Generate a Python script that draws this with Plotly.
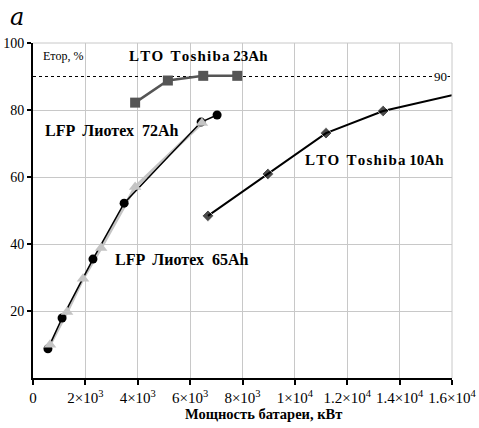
import plotly.graph_objects as go

# ---- data ----
lto23_x = [3900, 5150, 6500, 7800]
lto23_y = [82.2, 88.8, 90.2, 90.2]

lto10_x = [6680, 8970, 11190, 13370, 16000]
lto10_y = [48.4, 60.9, 73.1, 79.7, 84.4]

lfp65_x = [570, 1110, 2290, 3480, 6420, 7030]
lfp65_y = [8.7, 17.9, 35.5, 52.2, 76.4, 78.5]

lfp72_x = [650, 1300, 1910, 2600, 3900, 6450]
lfp72_y = [9.9, 19.7, 29.6, 38.8, 57.0, 76.1]

ref_level = 90
x_tickvals = [0, 2000, 4000, 6000, 8000, 10000, 12000, 14000, 16000]
x_ticktext = ["0", "2×10<sup>3</sup>", "4×10<sup>3</sup>", "6×10<sup>3</sup>",
              "8×10<sup>3</sup>", "1×10<sup>4</sup>", "1.2×10<sup>4</sup>",
              "1.4×10<sup>4</sup>", "1.6×10<sup>4</sup>"]
y_tickvals = [20, 40, 60, 80, 100]

SERIF = "Liberation Serif"
HS = "\u200a"
GRAY = "#c4c4c4"

fig = go.Figure()

# reference dashed line at 90
fig.add_trace(go.Scatter(x=[0, 16000], y=[ref_level, ref_level], mode="lines",
                         line=dict(color="black", width=1, dash="3px,3px"),
                         hoverinfo="skip", showlegend=False))

# LFP 72Ah gray line (under), LFP 65Ah black on top, then gray triangles
fig.add_trace(go.Scatter(x=lfp72_x, y=lfp72_y, mode="lines",
                         line=dict(color=GRAY, width=3),
                         hoverinfo="skip", showlegend=False))
fig.add_trace(go.Scatter(x=lfp65_x, y=lfp65_y, mode="lines+markers",
                         line=dict(color="black", width=1.5),
                         marker=dict(symbol="circle", size=9, color="black"),
                         name="LFP Лиотех 65Ah", showlegend=False))
fig.add_trace(go.Scatter(x=lfp72_x, y=lfp72_y, mode="markers",
                         marker=dict(symbol="triangle-up", size=11, color=GRAY),
                         name="LFP Лиотех 72Ah", showlegend=False))
fig.add_trace(go.Scatter(x=lto23_x, y=lto23_y, mode="lines+markers",
                         line=dict(color="#555555", width=2.5),
                         marker=dict(symbol="square", size=10, color="#555555"),
                         name="LTO Toshiba 23Ah", showlegend=False))
fig.add_trace(go.Scatter(x=lto10_x, y=lto10_y, mode="lines+markers",
                         line=dict(color="black", width=2),
                         marker=dict(symbol="diamond", size=[9, 9, 9, 9, 0], color="black"),
                         name="LTO Toshiba 10Ah", showlegend=False))

lab = dict(family=SERIF, size=15, color="black")
lab16 = dict(family=SERIF, size=16, color="black")
lto23_txt = "<b>" + HS.join("LTO") + "  " + HS.join("Toshiba") + " 23Ah</b>"
lto10_txt = "<b>" + HS.join("LTO") + "  " + HS.join("Toshiba") + " 10Ah</b>"
annos = [
    dict(x=0.02, y=0.96, xref="paper", yref="paper", text="Етор, %",
         font=dict(family=SERIF, size=12, color="black"), xanchor="left", yanchor="middle"),
    dict(x=0.225, y=0.96, xref="paper", yref="paper", text=lto23_txt,
         font=lab, xanchor="left", yanchor="middle"),
    dict(x=0.024, y=0.738, xref="paper", yref="paper", text="<b>LFP  Лиотех  72Ah</b>",
         font=lab16, xanchor="left", yanchor="middle"),
    dict(x=0.19, y=0.354, xref="paper", yref="paper", text="<b>LFP  Лиотех  65Ah</b>",
         font=lab16, xanchor="left", yanchor="middle"),
    dict(x=0.645, y=0.65, xref="paper", yref="paper", text=lto10_txt,
         font=lab, xanchor="left", yanchor="middle"),
    dict(x=15560, y=ref_level, xref="x", yref="y", text="90",
         font=dict(family=SERIF, size=13, color="black"), bgcolor="white",
         xanchor="center", yanchor="middle", borderpad=0),
    dict(x=-0.06, y=1.078, xref="paper", yref="paper", text="<i>a</i>",
         font=dict(family="DejaVu Serif", size=24, color="black"),
         xanchor="left", yanchor="middle"),
    dict(x=0.551, y=-0.107, xref="paper", yref="paper", text="<b>Мощность батареи, кВт</b>",
         font=dict(family=SERIF, size=14.5, color="black"),
         xanchor="center", yanchor="middle"),
]
for a in annos:
    a["showarrow"] = False
fig.update_layout(annotations=annos)

fig.update_xaxes(range=[0, 16000], tickvals=x_tickvals, ticktext=x_ticktext,
                 automargin=False,
                 showgrid=True, gridcolor="#c8c8c8", gridwidth=1,
                 showline=True, linecolor="black", linewidth=2,
                 ticks="outside", ticklen=5, tickwidth=2, tickcolor="black",
                 zeroline=False,
                 tickfont=dict(family=SERIF, size=15, color="black"))
fig.update_yaxes(range=[0, 100], tickvals=y_tickvals,
                 automargin=False,
                 showgrid=True, gridcolor="#c8c8c8", gridwidth=1,
                 showline=True, linecolor="black", linewidth=2,
                 ticks="outside", ticklen=4, tickwidth=2, tickcolor="black",
                 zeroline=False,
                 tickfont=dict(family=SERIF, size=14, color="black"))

# light gray top and right frame lines
fig.add_shape(type="line", xref="paper", yref="paper", x0=0, x1=1, y0=1, y1=1,
              line=dict(color="#c8c8c8", width=1))
fig.add_shape(type="line", xref="paper", yref="paper", x0=1, x1=1, y0=0, y1=1,
              line=dict(color="#c8c8c8", width=1))

fig.update_layout(width=479, height=428,
                  margin=dict(l=33, r=27, t=43, b=50),
                  paper_bgcolor="white", plot_bgcolor="white",
                  showlegend=False)

fig.write_html("out.html")
